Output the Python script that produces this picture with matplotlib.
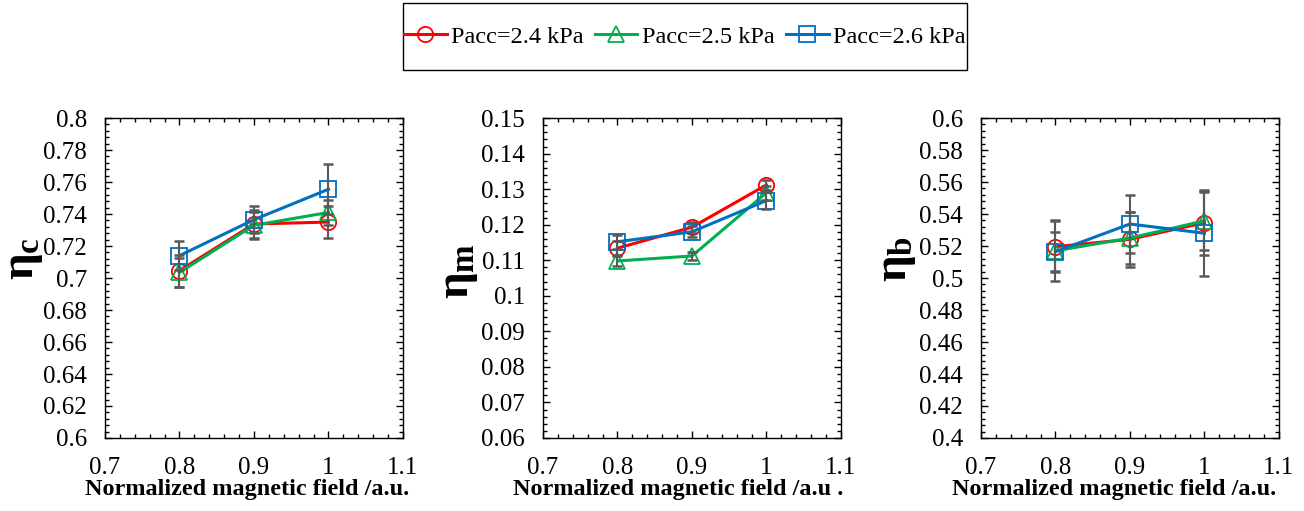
import matplotlib
matplotlib.use("Agg")
import matplotlib.pyplot as plt
from matplotlib.ticker import MultipleLocator, FuncFormatter
from matplotlib.lines import Line2D
from matplotlib.patches import Rectangle

plt.rcParams['font.family'] = ['Liberation Serif', 'DejaVu Serif']
plt.rcParams['mathtext.fontset'] = 'custom'
plt.rcParams['mathtext.rm'] = 'Liberation Serif:bold'
plt.rcParams['mathtext.it'] = 'Liberation Serif:bold'
plt.rcParams['mathtext.bf'] = 'Liberation Serif:bold'

x = [0.8, 0.9, 1.0]
series_labels = ['Pacc=2.4 kPa', 'Pacc=2.5 kPa', 'Pacc=2.6 kPa']

# Panel 1: eta_c
eta_c_24 = [0.7046, 0.7338, 0.7350]
eta_c_25 = [0.7035, 0.7330, 0.7410]
eta_c_26 = [0.7140, 0.7365, 0.7555]
err_c_24 = [0.0100, 0.0090, 0.0100]
err_c_25 = [0.0090, 0.0085, 0.0080]
err_c_26 = [0.0090, 0.0085, 0.0155]

# Panel 2: eta_m
eta_m_24 = [0.1134, 0.1193, 0.1312]
eta_m_25 = [0.1098, 0.1112, 0.1290]
eta_m_26 = [0.1152, 0.1180, 0.1268]
err_m_24 = [0.0020, 0.0015, 0.0015]
err_m_25 = [0.0015, 0.0012, 0.0020]
err_m_26 = [0.0020, 0.0015, 0.0025]

# Panel 3: eta_b
eta_b_24 = [0.5196, 0.5242, 0.5346]
eta_b_25 = [0.5170, 0.5250, 0.5358]
eta_b_26 = [0.5165, 0.5338, 0.5280]
err_b_24 = [0.0160, 0.0170, 0.0200]
err_b_25 = [0.0190, 0.0160, 0.0180]
err_b_26 = [0.0120, 0.0180, 0.0270]

panels = [
    dict(ys=[eta_c_24, eta_c_25, eta_c_26], es=[err_c_24, err_c_25, err_c_26],
         ylim=(0.6, 0.8), major=0.02, minor=0.004, label=r'$\eta_c$',
         xlabel='Normalized magnetic field /a.u.', lx=-0.2, ly=0.56, xlx=0.477),
    dict(ys=[eta_m_24, eta_m_25, eta_m_26], es=[err_m_24, err_m_25, err_m_26],
         ylim=(0.06, 0.15), major=0.01, minor=0.002, label=r'$\eta_m$',
         xlabel='Normalized magnetic field /a.u .', lx=-0.212, ly=0.52, xlx=0.455),
    dict(ys=[eta_b_24, eta_b_25, eta_b_26], es=[err_b_24, err_b_25, err_b_26],
         ylim=(0.4, 0.6), major=0.02, minor=0.004, label=r'$\eta_b$',
         xlabel='Normalized magnetic field /a.u.', lx=-0.212, ly=0.56, xlx=0.448),
]

colors = ['#FF0000', '#00B050', '#0070C0']
markers = ['o', '^', 's']

fig = plt.figure(figsize=(13.04, 5.11), dpi=100)
lefts = [0.0805, 0.4164, 0.7523]
width = 0.2285
bottom = 0.1429
height = 0.626

def fmt(v, pos):
    s = ('%.3f' % v).rstrip('0').rstrip('.')
    return s

for i, p in enumerate(panels):
    ax = fig.add_axes([lefts[i], bottom, width, height])
    for j in range(3):
        ax.plot(x, p['ys'][j], color=colors[j], marker=markers[j], lw=2.2,
                ms=11, mfc='none', mec=colors[j], mew=1.3, zorder=3)
    for j in range(3):
        ax.errorbar(x, p['ys'][j], yerr=p['es'][j], fmt='none', ecolor='#595959',
                    elinewidth=1.5, capsize=3.5, capthick=1.8, zorder=4)
    ax.set_xlim(0.7, 1.1)
    ax.set_ylim(*p['ylim'])
    ax.xaxis.set_major_locator(MultipleLocator(0.1))
    ax.xaxis.set_minor_locator(MultipleLocator(0.02))
    ax.yaxis.set_major_locator(MultipleLocator(p['major']))
    ax.yaxis.set_minor_locator(MultipleLocator(p['minor']))
    ax.xaxis.set_major_formatter(FuncFormatter(fmt))
    ax.yaxis.set_major_formatter(FuncFormatter(fmt))
    ax.tick_params(which='both', direction='in', top=True, right=True,
                   labelsize=18, width=1, colors='black')
    ax.tick_params(which='major', length=5)
    ax.tick_params(which='minor', length=3)
    ax.tick_params(axis='y', which='major', pad=13)
    ax.tick_params(axis='x', which='major', pad=14)
    for s in ax.spines.values():
        s.set_linewidth(1.0)
        s.set_color('black')
    ax.set_xlabel(p['xlabel'], fontsize=17.5, fontweight='bold', labelpad=0)
    ax.xaxis.label.set_x(p['xlx'])
    ax.set_ylabel(p['label'], fontsize=34)
    ax.yaxis.set_label_coords(p['lx'], p['ly'])

# legend frame
W, H = 1304.0, 511.0
fig.patches.append(Rectangle((403 / W, 1 - 70 / H), (967 - 403) / W, 67 / H,
                             transform=fig.transFigure, fill=False,
                             edgecolor='black', linewidth=1.0))
handles = [Line2D([0], [0], color=colors[j], marker=markers[j], lw=2.2, ms=11,
                  mfc='none', mec=colors[j], mew=1.3) for j in range(3)]
leg = fig.legend(handles, series_labels, loc='center', bbox_to_anchor=(685 / W, 1 - 36.5 / H),
                 ncol=3, fontsize=17.5, frameon=False, borderpad=0.2,
                 handlelength=1.75, handletextpad=0.2, columnspacing=0.45)

fig.savefig('out.png', dpi=100)
